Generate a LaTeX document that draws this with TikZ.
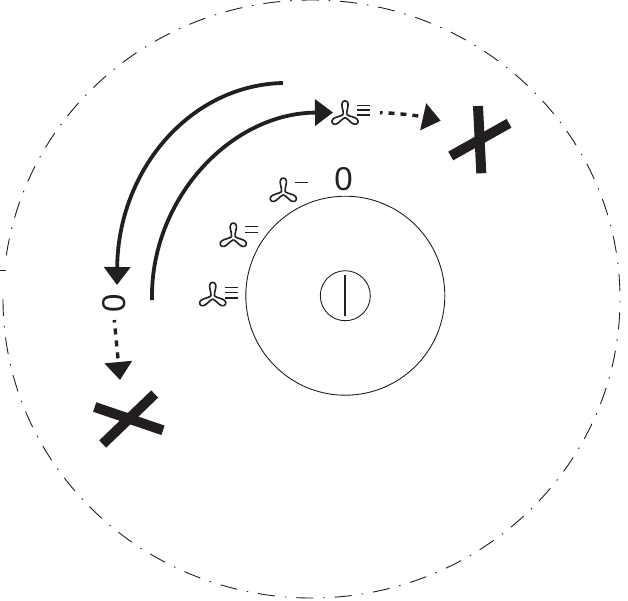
\documentclass[tikz,border=0pt]{standalone}
\usepackage{fontspec}
\setmainfont{Liberation Sans}
\usetikzlibrary{arrows.meta}
\definecolor{ink}{HTML}{231F20}
\tikzset{
 ring/.style={draw=ink,circle,inner sep=0pt,line width=0.9pt},
 zerolabel/.style={text=ink,inner sep=0pt,font=\fontsize{33}{33}\selectfont},
 bigarrow/.style={-{Triangle[length=18pt,width=26pt]},line width=3.8pt,draw=ink},
 dotarrow/.style={-{Triangle[length=18pt,width=27pt]},line width=3.4pt,draw=ink,
             dash pattern=on 2.5pt off 6pt on 6pt off 6pt on 6pt off 6pt on 6pt off 6pt},
 crossbar/.style={line width=10pt,draw=ink},
 fan/.pic={
   \foreach \a in {0,120,240}{
     \draw[ink,line width=1.6pt,line join=round,rotate=\a] (-1.73,-1)
       .. controls (-1.5,-5) and (-3.6,-9) .. (-3,-12)
       .. controls (-2.3,-15.6) and (2.3,-15.6) .. (3,-12)
       .. controls (3.6,-9) and (1.5,-5) .. (1.73,-1);
   }
   \foreach \y in {#1}{
     \draw[ink,line width=1.5pt] (12,\y) -- (25,\y);
   }
 }
}
\begin{document}
\begin{tikzpicture}[x=1pt,y=-1pt]
\useasboundingbox (0,0) rectangle (628,600);
% outer limit
\draw[ink,line width=0.9pt,dash pattern=on 17pt off 10pt on 1.5pt off 10pt]
  (3,299) arc[start angle=180,end angle=-172,x radius=308.5,y radius=299];
\coordinate (tickleft) at (0,270);
\coordinate (tickright) at (6,270);
\draw[ink,line width=0.8pt] (tickleft) -- (tickright);
% dial
\node[ring,minimum size=199pt] (dial) at (345.3,295.7) {};
\node[ring,minimum size=50pt] (knob) at (345.3,295.7) {};
\coordinate (marktop) at (345,275);
\coordinate (markbot) at (345,316);
\draw[ink,line width=1.6pt] (marktop) -- (markbot);
\node[zerolabel] (zerotop) at (343.5,179) {0};
\pic at (212.7,297) {fan={-9.5,-4.5,1}};
\pic at (233.3,237.7) {fan={-11,-5}};
\pic at (283.3,192.7) {fan={-10}};
\pic at (345,115.5) {fan={-10,-5.3,-0.7}};
% arcs
\coordinate (outerstart) at (283,83);
\coordinate (outerend) at (117,285);
\coordinate (innerstart) at (152,300);
\coordinate (innerend) at (333,112.5);
\draw[bigarrow] (outerstart) .. controls (190,85) and (118,170) .. (outerend);
\draw[bigarrow] (innerstart) .. controls (150,200) and (230,113) .. (innerend);
% left side
\node[zerolabel,rotate=90] (zeroside) at (114,303.5) {0};
\coordinate (sidefrom) at (114.3,320);
\coordinate (sidetip) at (120,380);
\draw[dotarrow] (sidefrom) -- (sidetip);
\coordinate (sideA) at (94.7,407);
\coordinate (sideB) at (163,430.3);
\coordinate (sideC) at (154.7,394);
\coordinate (sideD) at (102.7,444);
\draw[crossbar] (sideA) -- (sideB);
\draw[crossbar] (sideC) -- (sideD);
% top side
\coordinate (topfrom) at (380,112.7);
\coordinate (toptip) at (440.7,120.7);
\draw[dotarrow] (topfrom) .. controls (400,113) and (422,116.5) .. (toptip);
\coordinate (topA) at (478,106);
\coordinate (topB) at (481.3,173.3);
\coordinate (topC) at (450.7,156);
\coordinate (topD) at (509,123.3);
\draw[crossbar] (topA) -- (topB);
\draw[crossbar] (topC) -- (topD);
\end{tikzpicture}
\end{document}
